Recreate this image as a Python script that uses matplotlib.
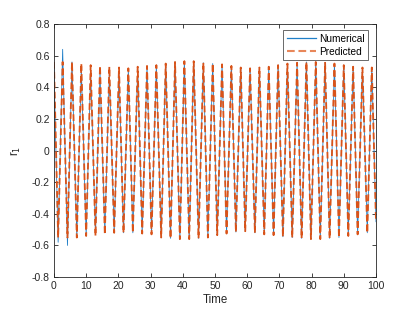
#!/usr/bin/env python3
"""Numerical vs predicted r_1 response over time (MATLAB-style line plot)."""

import matplotlib
matplotlib.use("Agg")
import matplotlib.pyplot as plt

# peak / trough readings (time, value)
start_time = 0.0
start_num = 0.52
start_pred = 0.56

trough_times = [1.3, 4.2, 7.1, 10.0, 12.9, 15.8, 18.7, 21.6, 24.5, 27.4,
                30.3, 33.3, 36.2, 39.1, 42.0, 44.9, 47.8, 50.7, 53.6, 56.5,
                59.4, 62.4, 65.3, 68.2, 71.1, 74.0, 76.9, 79.8, 82.7, 85.6,
                88.5, 91.4, 94.3, 97.3]
peak_times = [2.7, 5.6, 8.5, 11.4, 14.3, 17.2, 20.2, 23.1, 26.0, 28.9,
              31.8, 34.7, 37.6, 40.5, 43.4, 46.4, 49.3, 52.2, 55.1, 58.0,
              60.9, 63.8, 66.7, 69.6, 72.5, 75.5, 78.4, 81.3, 84.2, 87.1,
              90.0, 92.9, 95.8, 98.7]

num_troughs = [-0.58, -0.60, -0.55, -0.54, -0.53, -0.52, -0.52, -0.52, -0.52, -0.525,
               -0.53, -0.55, -0.555, -0.56, -0.56, -0.555, -0.55, -0.535, -0.525, -0.515,
               -0.51, -0.52, -0.53, -0.535, -0.545, -0.55, -0.555, -0.56, -0.56, -0.555,
               -0.55, -0.54, -0.53, -0.52]
num_peaks = [0.64, 0.56, 0.52, 0.50, 0.49, 0.49, 0.50, 0.51, 0.52, 0.53,
             0.54, 0.55, 0.56, 0.565, 0.565, 0.555, 0.55, 0.545, 0.535, 0.525,
             0.52, 0.525, 0.53, 0.54, 0.55, 0.555, 0.56, 0.56, 0.555, 0.55,
             0.54, 0.53, 0.525, 0.525]

pred_troughs = [-0.55, -0.55, -0.55, -0.54, -0.54, -0.53, -0.52, -0.52, -0.52, -0.525,
                -0.53, -0.55, -0.555, -0.56, -0.56, -0.555, -0.55, -0.535, -0.525, -0.515,
                -0.51, -0.52, -0.53, -0.535, -0.545, -0.55, -0.555, -0.56, -0.56, -0.555,
                -0.55, -0.54, -0.53, -0.52]
pred_peaks = [0.56, 0.56, 0.55, 0.54, 0.535, 0.53, 0.525, 0.52, 0.53, 0.535,
              0.54, 0.55, 0.56, 0.565, 0.565, 0.555, 0.55, 0.545, 0.535, 0.525,
              0.52, 0.525, 0.53, 0.54, 0.55, 0.555, 0.56, 0.56, 0.555, 0.55,
              0.54, 0.53, 0.525, 0.525]

end_time = 100.0
end_num = -0.45
end_pred = -0.45

x_ticks = list(range(0, 101, 10))
y_ticks = [-0.8, -0.6, -0.4, -0.2, 0, 0.2, 0.4, 0.6, 0.8]
y_tick_labels = ["-0.8", "-0.6", "-0.4", "-0.2", "0", "0.2", "0.4", "0.6", "0.8"]


def build_series(start_val, troughs, peaks, end_val):
    t = [start_time]
    v = [start_val]
    for tt, tv, pt, pv in zip(trough_times, troughs, peak_times, peaks):
        t += [tt, pt]
        v += [tv, pv]
    t.append(end_time)
    v.append(end_val)
    return t, v


def main():
    plt.rcParams["font.family"] = ["Liberation Sans", "DejaVu Sans"]
    plt.rcParams["axes.unicode_minus"] = False

    fig = plt.figure(figsize=(4.15, 3.12), dpi=100)
    ax = fig.add_axes([0.130, 0.112, 0.776, 0.811])

    t_num, v_num = build_series(start_num, num_troughs, num_peaks, end_num)
    t_pred, v_pred = build_series(start_pred, pred_troughs, pred_peaks, end_pred)

    ax.plot(t_num, v_num, color="#1f7fc8", lw=0.6, label="Numerical")
    ax.plot(t_pred, v_pred, color="#D95319", lw=1.3,
            linestyle=(0, (3.7, 1.8)), label="Predicted")

    ax.set_xlim(0, 100)
    ax.set_ylim(-0.8, 0.8)
    ax.set_xticks(x_ticks)
    ax.set_yticks(y_ticks)
    ax.set_yticklabels(y_tick_labels)

    dark = "#262626"
    for s in ax.spines.values():
        s.set_color(dark)
        s.set_linewidth(0.6)
    ax.tick_params(direction="in", length=3, width=0.6, colors=dark,
                   labelsize=7.5, top=True, right=True, pad=3)

    ax.set_xlabel("Time", fontsize=8.3, color=dark, labelpad=2)
    ax.set_ylabel("r$_1$", fontsize=8.3, color=dark, labelpad=6)

    leg = ax.legend(loc="upper right", fontsize=7.3, frameon=True, fancybox=False,
                    edgecolor=dark, handlelength=2.9, borderpad=0.35,
                    labelspacing=0.3, handletextpad=0.25, borderaxespad=0,
                    bbox_to_anchor=(0.975, 0.975))
    leg.get_frame().set_linewidth(0.6)
    leg_lines = leg.get_lines()
    leg_lines[0].set_linewidth(0.9)
    leg_lines[1].set_color("#e8875a")
    leg_lines[1].set_linewidth(1.5)

    fig.savefig("out.png", dpi=100)
    plt.close(fig)


if __name__ == "__main__":
    main()
